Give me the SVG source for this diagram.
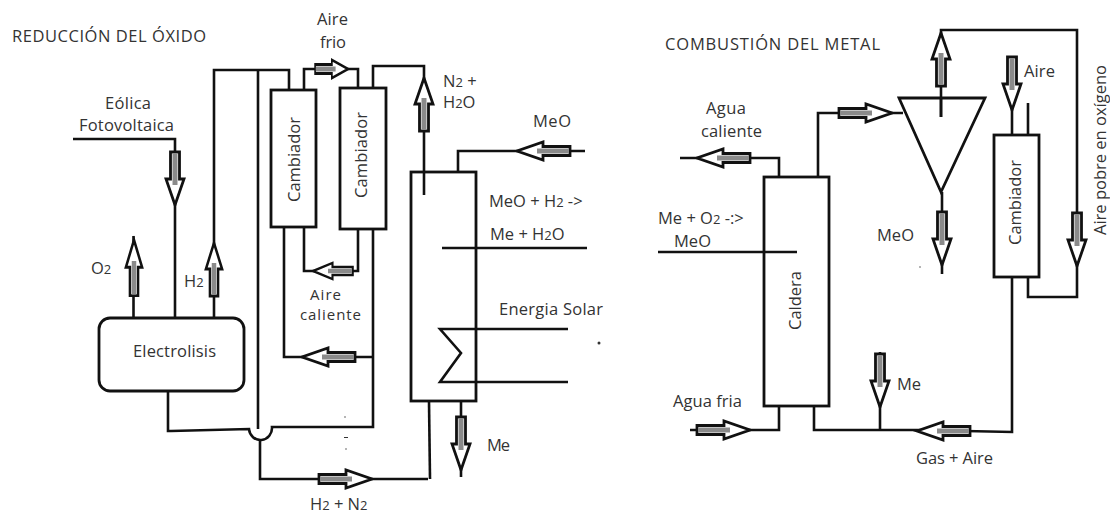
<svg xmlns="http://www.w3.org/2000/svg" xmlns:xlink="http://www.w3.org/1999/xlink" width="1110" height="514" viewBox="0 0 1110 514">
<style>
text{font-family:"Open Sans","Noto Sans","Liberation Sans",sans-serif;font-size:16.5px;fill:#333}
.s{font-size:13px}
.t{font-size:15px}
.box{fill:#fff;stroke:#111;stroke-width:2.8}
.ln{fill:none;stroke:#111;stroke-width:2.6;stroke-linejoin:miter}
.ah{fill:#fff;stroke:#111;stroke-width:2.8}
.as{fill:#8a8a8a;stroke:none}
.dot{fill:#333}
</style>
<defs>
<g id="arrow">
<path class="ah" d="M-53,-4.500 H-26 V-9 L0,0 L-26,9 V4.500 H-53Z"/>
<rect class="as" x="-52" y="-2.500" width="32" height="5"/>
</g>
</defs>
<rect width="1110" height="514" fill="#fff"/>
<g id="connectors">
<path class="ln" d="M73,139 H175 V318"/>
<path class="ln" d="M133.500,317 V236"/>
<path class="ln" d="M214,317 V70 H289 V90"/>
<path class="ln" d="M258,70 V429 M304,90 V69 H358 V88"/>
<path class="ln" d="M373,88 V66 H424 V195"/>
<path class="ln" d="M284,227 V357 H373"/>
<path class="ln" d="M304,227 V271 H358 V229"/>
<path class="ln" d="M373,229 V427 H272 A11.500,12 0 0 1 249,429 L171,431 H168 V391"/>
<path class="ln" d="M260,440 V479 H428"/>
<path class="ln" d="M429,401 L430,479"/>
<path class="ln" d="M458,172 V151 H585"/>
<path class="ln" d="M442,248 H587"/>
<path class="ln" d="M568,329 H440 L461,353 L440,382 H568"/>
<path class="ln" d="M461,401 V477"/>
<path class="ln" d="M941,117 V30 H1077 V297 H1028 V277"/>
<path class="ln" d="M942,192 V274"/>
<path class="ln" d="M1012,135 V57 M1028,135 V103"/>
<path class="ln" d="M779,177 V158 H680"/>
<path class="ln" d="M818,177 V113 H903"/>
<path class="ln" d="M779,406 V430 H690"/>
<path class="ln" d="M814,406 V430 H917 L1012,432 V277"/>
<path class="ln" d="M880,352 V430"/>
</g>
<g id="reactor"><rect class="box" x="411" y="172" width="65" height="229" style="fill:none"/></g>
<g id="electrolisis"><rect class="box" x="99" y="318" width="145" height="73" rx="11"/><text x="133" y="357" textLength="83">Electrolisis</text></g>
<g id="cambiador-1"><rect class="box" x="271" y="90" width="45" height="137"/><text transform="translate(300,202) rotate(-90)" textLength="85">Cambiador</text></g>
<g id="cambiador-2"><rect class="box" x="340" y="88" width="46" height="141"/><text transform="translate(366.500,198) rotate(-90)" textLength="86">Cambiador</text></g>
<g id="separador"><path class="ln" d="M899,98 H985 L941,192Z" style="stroke-width:2.8"/><path class="ln" d="M941,98 V117"/></g>
<g id="cambiador-3"><rect class="box" x="994" y="135" width="45" height="142"/><text transform="translate(1021,245) rotate(-90)" textLength="85">Cambiador</text></g>
<g id="caldera"><rect class="box" x="764" y="177" width="65" height="229"/><text transform="translate(801,330) rotate(-90)" textLength="59">Caldera</text></g>
<g id="connectors-top">
<path class="ln" d="M658,252 H797"/>
</g>
<g id="arrows">
<use xlink:href="#arrow" href="#arrow" transform="translate(175,205) rotate(90)"/>
<use xlink:href="#arrow" href="#arrow" transform="translate(134,240) rotate(-90) scale(1.05,.9)"/>
<use xlink:href="#arrow" href="#arrow" transform="translate(214,243) rotate(-90) scale(1,.9)"/>
<use xlink:href="#arrow" href="#arrow" transform="translate(348,69) scale(.62,1)"/>
<use xlink:href="#arrow" href="#arrow" transform="translate(424,78) rotate(-90)"/>
<use xlink:href="#arrow" href="#arrow" transform="translate(313,271) rotate(180) scale(.75,.9)"/>
<use xlink:href="#arrow" href="#arrow" transform="translate(302,357) rotate(180)"/>
<use xlink:href="#arrow" href="#arrow" transform="translate(517,151) rotate(180)"/>
<use xlink:href="#arrow" href="#arrow" transform="translate(461,470) rotate(90)"/>
<use xlink:href="#arrow" href="#arrow" transform="translate(372,479)"/>
<use xlink:href="#arrow" href="#arrow" transform="translate(941,33) rotate(-90)"/>
<use xlink:href="#arrow" href="#arrow" transform="translate(942,265) rotate(90)"/>
<use xlink:href="#arrow" href="#arrow" transform="translate(1012,110) rotate(90)"/>
<use xlink:href="#arrow" href="#arrow" transform="translate(1077,266) rotate(90)"/>
<use xlink:href="#arrow" href="#arrow" transform="translate(697,158) rotate(180)"/>
<use xlink:href="#arrow" href="#arrow" transform="translate(892,113)"/>
<use xlink:href="#arrow" href="#arrow" transform="translate(750,430)"/>
<use xlink:href="#arrow" href="#arrow" transform="translate(917,431) rotate(180)"/>
<use xlink:href="#arrow" href="#arrow" transform="translate(880,407) rotate(90)"/>
</g>
<g id="labels">
<text x="12" y="42" textLength="194">REDUCCIÓN DEL ÓXIDO</text>
<text x="317" y="25" textLength="31">Aire</text>
<text x="320" y="48" textLength="26">frio</text>
<text x="105" y="109" textLength="46">Eólica</text>
<text x="79" y="131" textLength="95">Fotovoltaica</text>
<text x="91" y="274">O<tspan class="s">2</tspan></text>
<text x="184" y="287">H<tspan class="s">2</tspan></text>
<text class="t" x="310" y="300" textLength="31">Aire</text>
<text class="t" x="300" y="320" textLength="61">caliente</text>
<text x="310" y="510">H<tspan class="s">2</tspan> + N<tspan class="s">2</tspan></text>
<text x="443" y="87">N<tspan class="s">2</tspan> +</text>
<text x="443" y="108">H<tspan class="s">2</tspan>O</text>
<text x="533" y="127" textLength="38">MeO</text>
<text x="489" y="207">MeO + H<tspan class="s">2</tspan> -&gt;</text>
<text x="490" y="240">Me + H<tspan class="s">2</tspan>O</text>
<text x="499" y="315" textLength="104">Energia Solar</text>
<text x="487" y="451" textLength="23">Me</text>
<text x="665" y="50" textLength="215">COMBUSTIÓN DEL METAL</text>
<text x="706" y="114" textLength="40">Agua</text>
<text x="701" y="137" textLength="61">caliente</text>
<text x="658" y="224">Me + O<tspan class="s">2</tspan> -:&gt;</text>
<text x="674" y="247" textLength="37">MeO</text>
<text x="877" y="241" textLength="37">MeO</text>
<text x="1024" y="77" textLength="31">Aire</text>
<text transform="translate(1106,235) rotate(-90)" textLength="170">Aire pobre en oxígeno</text>
<text x="897" y="390" textLength="24">Me</text>
<text x="673" y="407" textLength="69">Agua fria</text>
<text x="916" y="464" textLength="77">Gas + Aire</text>
</g>
<g id="specks">
<circle class="dot" cx="599" cy="343" r="1.500"/><circle class="dot" cx="345" cy="417" r=".7"/><rect class="dot" x="344" y="437" width="4" height="1"/><circle class="dot" cx="346" cy="449" r=".7"/><circle class="dot" cx="920" cy="267" r=".7"/>
</g>
</svg>
